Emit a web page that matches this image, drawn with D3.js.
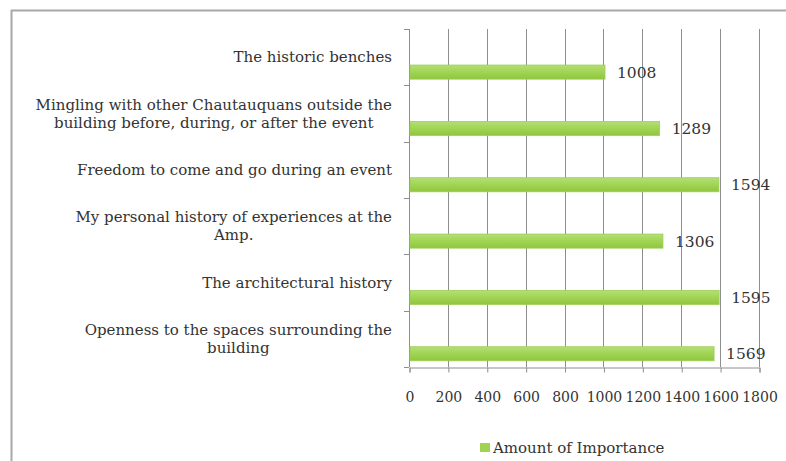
<!DOCTYPE html>
<html>
<head>
<meta charset="utf-8">
<script src="https://cdn.jsdelivr.net/npm/d3@7"></script>
<style>
  html, body { margin: 0; padding: 0; background: #fff; }
  svg { display: block; }
  text { font-family: "DejaVu Serif", serif; fill: #333; }
</style>
</head>
<body>
<div id="chart"></div>
<script>
// categories, top to bottom as shown
const categories = [
  ['The historic benches'],
  ['Mingling with other Chautauquans outside the', 'building before, during, or after the event'],
  ['Freedom to come and go during an event'],
  ['My personal history of experiences at the', 'Amp.'],
  ['The architectural history'],
  ['Openness to the spaces surrounding the', 'building']
];
const values = [1008, 1289, 1594, 1306, 1595, 1569];
const xTicks = [0, 200, 400, 600, 800, 1000, 1200, 1400, 1600, 1800];
const seriesName = 'Amount of Importance';

const width = 786, height = 461;
const margin = { top: 29, left: 409, right: 27, bottom: 94 };

const svg = d3.select('#chart').append('svg')
  .attr('width', width)
  .attr('height', height);

const defs = svg.append('defs');
const grad = defs.append('linearGradient')
  .attr('id', 'barGrad')
  .attr('x1', 0).attr('y1', 0).attr('x2', 0).attr('y2', 1);
grad.append('stop').attr('offset', '0%').attr('stop-color', '#b4de78');
grad.append('stop').attr('offset', '35%').attr('stop-color', '#a6d85c');
grad.append('stop').attr('offset', '100%').attr('stop-color', '#8fc63e');

// frame (top and left edge only, as in the cropped picture)
svg.append('line')
  .attr('x1', 11).attr('x2', width).attr('y1', 10.5).attr('y2', 10.5)
  .attr('stroke', '#a8a8a8').attr('stroke-width', 2);
svg.append('line')
  .attr('x1', 11.5).attr('x2', 11.5).attr('y1', 10).attr('y2', height)
  .attr('stroke', '#a8a8a8').attr('stroke-width', 2);

const x = d3.scaleLinear()
  .domain([0, 1800])
  .range([margin.left, width - margin.right]);

const y = d3.scaleBand()
  .domain(d3.range(categories.length))
  .range([margin.top, height - margin.bottom]);

const g = svg.append('g');

// vertical gridlines
g.selectAll('line.grid')
  .data(xTicks.slice(1))
  .join('line')
  .attr('class', 'grid')
  .attr('x1', d => Math.round(x(d)) + 0.5)
  .attr('x2', d => Math.round(x(d)) + 0.5)
  .attr('y1', margin.top)
  .attr('y2', height - margin.bottom)
  .attr('stroke', '#8e8e8e')
  .attr('stroke-width', 1);

// bottom axis
const xAxis = d3.axisBottom(x)
  .tickValues(xTicks)
  .tickSize(5)
  .tickFormat(d3.format('d'));
const xg = svg.append('g')
  .attr('transform', `translate(0.5,${height - margin.bottom + 0.5})`)
  .call(xAxis);
xg.select('.domain').attr('stroke', '#8e8e8e');
xg.selectAll('.tick line').attr('stroke', '#8e8e8e');
xg.selectAll('.tick text')
  .attr('dy', 0)
  .attr('y', 34)
  .style('font-size', '14px')
  .style('font-family', '"DejaVu Serif", serif')
  .attr('fill', '#333');

// left axis line with boundary ticks
const yEdges = d3.range(categories.length + 1).map(i => margin.top + i * y.step());
svg.append('line')
  .attr('x1', margin.left + 0.5).attr('x2', margin.left + 0.5)
  .attr('y1', margin.top).attr('y2', height - margin.bottom)
  .attr('stroke', '#8e8e8e');
svg.selectAll('line.ytick')
  .data(yEdges)
  .join('line')
  .attr('class', 'ytick')
  .attr('x1', margin.left - 5).attr('x2', margin.left)
  .attr('y1', d => Math.round(d) + 0.5).attr('y2', d => Math.round(d) + 0.5)
  .attr('stroke', '#8e8e8e');

// bars
const barOff = y.bandwidth() * 0.64;
const barH = y.bandwidth() * 0.25;
svg.selectAll('rect.bar')
  .data(values)
  .join('rect')
  .attr('class', 'bar')
  .attr('x', x(0) + 1)
  .attr('y', (d, i) => y(i) + barOff)
  .attr('width', d => x(d) - x(0) - 1)
  .attr('height', barH)
  .attr('fill', 'url(#barGrad)')
  .attr('stroke', '#9ccf55')
  .attr('stroke-width', 0.8);

// value labels
svg.selectAll('text.val')
  .data(values)
  .join('text')
  .attr('class', 'val')
  .attr('x', d => x(d) + 12)
  .attr('y', (d, i) => y(i) + barOff + barH / 2)
  .attr('dy', '0.35em')
  .style('font-size', '15.5px')
  .text(d => d);

// category labels
const lineH = 18;
const labels = svg.selectAll('text.cat')
  .data(categories)
  .join('text')
  .attr('class', 'cat')
  .attr('text-anchor', 'middle')
  .style('font-size', '15px');
labels.each(function (lines, i) {
  const t = d3.select(this);
  const cy = y(i) + y.bandwidth() / 2;
  const y0 = cy - (lines.length - 1) * lineH / 2;
  lines.forEach((ln, k) => {
    t.append('tspan')
      .attr('y', y0 + k * lineH)
      .attr('dy', '0.35em')
      .text(ln);
  });
});
// right-align each label block, centre lines within the block
labels.each(function () {
  const t = d3.select(this);
  const w = d3.max(t.selectAll('tspan').nodes(), n => n.getComputedTextLength());
  t.selectAll('tspan').attr('x', 392 - w / 2);
});

// legend
const legend = svg.append('g').attr('transform', 'translate(480,443)');
legend.append('rect')
  .attr('width', 10).attr('height', 9)
  .attr('fill', '#9fd452');
legend.append('text')
  .attr('x', 13).attr('y', 5)
  .attr('dy', '0.35em')
  .style('font-size', '15px')
  .text(seriesName);
</script>
</body>
</html>
